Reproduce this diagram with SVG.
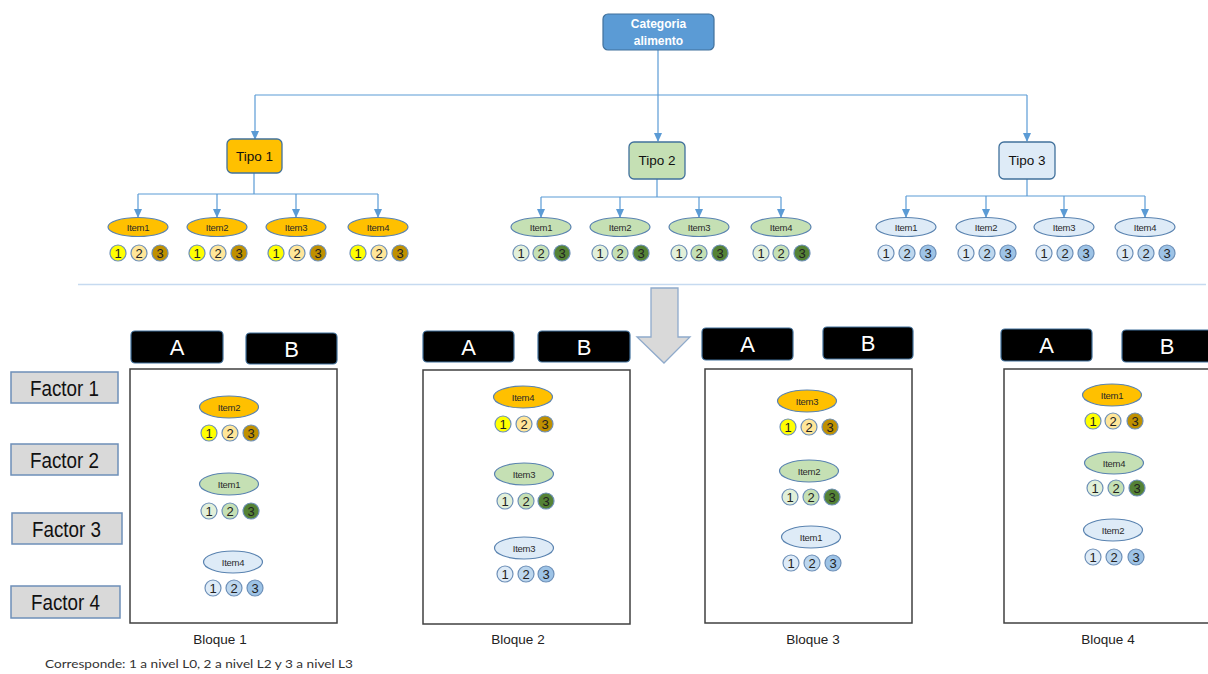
<svg xmlns="http://www.w3.org/2000/svg" width="1208" height="674" viewBox="0 0 1208 674">
  <defs>
    <marker id="arr" markerWidth="9" markerHeight="8" refX="8" refY="4" orient="auto" markerUnits="userSpaceOnUse">
      <path d="M0,0 L9,4 L0,8 Z" fill="#5B9BD5"/>
    </marker>
    <style>
      text { font-family: "Liberation Sans", Arial, sans-serif; }
      .conn { fill: none; stroke: #5B9BD5; stroke-width: 1.2; }
      .sep { fill: none; stroke: #C6DAF0; stroke-width: 1.5; }
      .root { fill: #5B9BD5; stroke: #41719C; stroke-width: 1.2; }
      .root-t { font-size: 12px; font-weight: bold; fill: #FFFFFF; text-anchor: middle; }
      .tipo-t { font-size: 13.5px; fill: #111; text-anchor: middle; }
      .t1 { fill: #FFC000; stroke: #41719C; stroke-width: 1.3; }
      .t2 { fill: #C5E0B4; stroke: #41719C; stroke-width: 1.3; }
      .t3 { fill: #DEEBF7; stroke: #41719C; stroke-width: 1.3; }
      .io { fill: #FFC000; stroke: #5A83B0; stroke-width: 1.2; }
      .ig { fill: #C5E0B4; stroke: #5A83B0; stroke-width: 1.2; }
      .ib { fill: #DEEBF7; stroke: #5A83B0; stroke-width: 1.2; }
      .it { font-size: 9.5px; fill: #2a2a2a; text-anchor: middle; letter-spacing: -0.3px; }
      .c { stroke: #6E90B8; stroke-width: 1.2; }
      .o1 { fill: #FFFF00; } .o2 { fill: #FFE699; } .o3 { fill: #BF9000; }
      .g1 { fill: #E2F0D9; } .g2 { fill: #C5E0B4; } .g3 { fill: #548235; }
      .b1 { fill: #DEEBF7; } .b2 { fill: #BDD7EE; } .b3 { fill: #9DC3E6; }
      .n { font-size: 13px; fill: #222; text-anchor: middle; }
      .hdr { fill: #000; stroke: #41719C; stroke-width: 1.2; }
      .hdr-t { font-size: 22px; fill: #FFFFFF; text-anchor: middle; }
      .frame { fill: #FFFFFF; stroke: #404040; stroke-width: 1.5; }
      .fac { fill: #D9D9D9; stroke: #6D8FB8; stroke-width: 1.5; }
      .fac-t { font-size: 22px; fill: #111; text-anchor: middle; }
      .blq { font-size: 13.5px; fill: #222; text-anchor: middle; }
      .note { font-family: Lato, "Liberation Sans", sans-serif; font-size: 12px; fill: #333; }
    </style>
  </defs>

  <rect width="1208" height="674" fill="#FFFFFF"/>

  <!-- connectors of the tree -->
  <g id="connectors">
    <path class="conn" d="M658,50 V141" marker-end="url(#arr)"/>
    <path class="conn" d="M255,95 H1027"/>
    <path class="conn" d="M255,95 V139" marker-end="url(#arr)"/>
    <path class="conn" d="M1027,95 V141" marker-end="url(#arr)"/>

    <path class="conn" d="M254,173 V194 M138,194 H378"/>
    <path class="conn" d="M138,194 V217" marker-end="url(#arr)"/>
    <path class="conn" d="M217,194 V217" marker-end="url(#arr)"/>
    <path class="conn" d="M296,194 V217" marker-end="url(#arr)"/>
    <path class="conn" d="M378,194 V217" marker-end="url(#arr)"/>

    <path class="conn" d="M657,179 V197 M541,197 H781"/>
    <path class="conn" d="M541,197 V217" marker-end="url(#arr)"/>
    <path class="conn" d="M620,197 V217" marker-end="url(#arr)"/>
    <path class="conn" d="M699,197 V217" marker-end="url(#arr)"/>
    <path class="conn" d="M781,197 V217" marker-end="url(#arr)"/>

    <path class="conn" d="M1027,179 V196 M906,196 H1145"/>
    <path class="conn" d="M906,196 V217" marker-end="url(#arr)"/>
    <path class="conn" d="M986,196 V217" marker-end="url(#arr)"/>
    <path class="conn" d="M1064,196 V217" marker-end="url(#arr)"/>
    <path class="conn" d="M1145,196 V217" marker-end="url(#arr)"/>
  </g>

  <!-- root -->
  <g id="categoria">
    <rect class="root" x="603" y="14" width="111" height="36" rx="5"/>
    <text class="root-t" x="658.5" y="28">Categoria</text>
    <text class="root-t" x="658.5" y="45">alimento</text>
  </g>

  <!-- types -->
  <g id="tipo1">
    <rect class="t1" x="227" y="139" width="55" height="34" rx="5"/>
    <text class="tipo-t" x="254.5" y="161">Tipo 1</text>
  </g>
  <g id="tipo2">
    <rect class="t2" x="629" y="142" width="56" height="37" rx="5"/>
    <text class="tipo-t" x="657" y="165">Tipo 2</text>
  </g>
  <g id="tipo3">
    <rect class="t3" x="999" y="142" width="56" height="37" rx="5"/>
    <text class="tipo-t" x="1027" y="165">Tipo 3</text>
  </g>

  <!-- items of Tipo 1 -->
  <g id="t1-item1">
    <ellipse class="io" cx="138" cy="227" rx="30" ry="9.5"/><text class="it" x="138" y="230.5">Item1</text>
    <circle class="c o1" cx="118" cy="253" r="8"/><text class="n" x="118" y="257.5">1</text>
    <circle class="c o2" cx="139" cy="253" r="8"/><text class="n" x="139" y="257.5">2</text>
    <circle class="c o3" cx="160" cy="253" r="8"/><text class="n" x="160" y="257.5">3</text>
  </g>
  <g id="t1-item2">
    <ellipse class="io" cx="217" cy="227" rx="30" ry="9.5"/><text class="it" x="217" y="230.5">Item2</text>
    <circle class="c o1" cx="197" cy="253" r="8"/><text class="n" x="197" y="257.5">1</text>
    <circle class="c o2" cx="218" cy="253" r="8"/><text class="n" x="218" y="257.5">2</text>
    <circle class="c o3" cx="239" cy="253" r="8"/><text class="n" x="239" y="257.5">3</text>
  </g>
  <g id="t1-item3">
    <ellipse class="io" cx="296" cy="227" rx="30" ry="9.5"/><text class="it" x="296" y="230.5">Item3</text>
    <circle class="c o1" cx="276" cy="253" r="8"/><text class="n" x="276" y="257.5">1</text>
    <circle class="c o2" cx="297" cy="253" r="8"/><text class="n" x="297" y="257.5">2</text>
    <circle class="c o3" cx="318" cy="253" r="8"/><text class="n" x="318" y="257.5">3</text>
  </g>
  <g id="t1-item4">
    <ellipse class="io" cx="378" cy="227" rx="30" ry="9.5"/><text class="it" x="378" y="230.5">Item4</text>
    <circle class="c o1" cx="358" cy="253" r="8"/><text class="n" x="358" y="257.5">1</text>
    <circle class="c o2" cx="379" cy="253" r="8"/><text class="n" x="379" y="257.5">2</text>
    <circle class="c o3" cx="400" cy="253" r="8"/><text class="n" x="400" y="257.5">3</text>
  </g>

  <!-- items of Tipo 2 -->
  <g id="t2-item1">
    <ellipse class="ig" cx="541" cy="227" rx="30" ry="9.5"/><text class="it" x="541" y="230.5">Item1</text>
    <circle class="c g1" cx="521" cy="253" r="8"/><text class="n" x="521" y="257.5">1</text>
    <circle class="c g2" cx="541" cy="253" r="8"/><text class="n" x="541" y="257.5">2</text>
    <circle class="c g3" cx="562" cy="253" r="8"/><text class="n" x="562" y="257.5">3</text>
  </g>
  <g id="t2-item2">
    <ellipse class="ig" cx="620" cy="227" rx="30" ry="9.5"/><text class="it" x="620" y="230.5">Item2</text>
    <circle class="c g1" cx="600" cy="253" r="8"/><text class="n" x="600" y="257.5">1</text>
    <circle class="c g2" cx="620" cy="253" r="8"/><text class="n" x="620" y="257.5">2</text>
    <circle class="c g3" cx="641" cy="253" r="8"/><text class="n" x="641" y="257.5">3</text>
  </g>
  <g id="t2-item3">
    <ellipse class="ig" cx="699" cy="227" rx="30" ry="9.5"/><text class="it" x="699" y="230.5">Item3</text>
    <circle class="c g1" cx="679" cy="253" r="8"/><text class="n" x="679" y="257.5">1</text>
    <circle class="c g2" cx="699" cy="253" r="8"/><text class="n" x="699" y="257.5">2</text>
    <circle class="c g3" cx="720" cy="253" r="8"/><text class="n" x="720" y="257.5">3</text>
  </g>
  <g id="t2-item4">
    <ellipse class="ig" cx="781" cy="227" rx="30" ry="9.5"/><text class="it" x="781" y="230.5">Item4</text>
    <circle class="c g1" cx="761" cy="253" r="8"/><text class="n" x="761" y="257.5">1</text>
    <circle class="c g2" cx="781" cy="253" r="8"/><text class="n" x="781" y="257.5">2</text>
    <circle class="c g3" cx="802" cy="253" r="8"/><text class="n" x="802" y="257.5">3</text>
  </g>

  <!-- items of Tipo 3 -->
  <g id="t3-item1">
    <ellipse class="ib" cx="906" cy="227" rx="30" ry="9.5"/><text class="it" x="906" y="230.5">Item1</text>
    <circle class="c b1" cx="886" cy="253" r="8"/><text class="n" x="886" y="257.5">1</text>
    <circle class="c b2" cx="907" cy="253" r="8"/><text class="n" x="907" y="257.5">2</text>
    <circle class="c b3" cx="928" cy="253" r="8"/><text class="n" x="928" y="257.5">3</text>
  </g>
  <g id="t3-item2">
    <ellipse class="ib" cx="986" cy="227" rx="30" ry="9.5"/><text class="it" x="986" y="230.5">Item2</text>
    <circle class="c b1" cx="966" cy="253" r="8"/><text class="n" x="966" y="257.5">1</text>
    <circle class="c b2" cx="987" cy="253" r="8"/><text class="n" x="987" y="257.5">2</text>
    <circle class="c b3" cx="1008" cy="253" r="8"/><text class="n" x="1008" y="257.5">3</text>
  </g>
  <g id="t3-item3">
    <ellipse class="ib" cx="1064" cy="227" rx="30" ry="9.5"/><text class="it" x="1064" y="230.5">Item3</text>
    <circle class="c b1" cx="1044" cy="253" r="8"/><text class="n" x="1044" y="257.5">1</text>
    <circle class="c b2" cx="1065" cy="253" r="8"/><text class="n" x="1065" y="257.5">2</text>
    <circle class="c b3" cx="1086" cy="253" r="8"/><text class="n" x="1086" y="257.5">3</text>
  </g>
  <g id="t3-item4">
    <ellipse class="ib" cx="1145" cy="227" rx="30" ry="9.5"/><text class="it" x="1145" y="230.5">Item4</text>
    <circle class="c b1" cx="1125" cy="253" r="8"/><text class="n" x="1125" y="257.5">1</text>
    <circle class="c b2" cx="1146" cy="253" r="8"/><text class="n" x="1146" y="257.5">2</text>
    <circle class="c b3" cx="1167" cy="253" r="8"/><text class="n" x="1167" y="257.5">3</text>
  </g>

  <!-- separator and transition arrow -->
  <line class="sep" x1="78" y1="284.5" x2="1206" y2="284.5"/>
  <polygon id="down-arrow" points="651,288 678,288 678,337 690,337 664,363 637,337 651,337" fill="#D9D9D9" stroke="#8FAACB" stroke-width="1.3"/>

  <!-- factor labels -->
  <g id="factor1"><rect class="fac" x="11" y="372" width="107" height="31"/><text class="fac-t" x="64.5" y="396" textLength="69" lengthAdjust="spacingAndGlyphs">Factor 1</text></g>
  <g id="factor2"><rect class="fac" x="11" y="444" width="107" height="31"/><text class="fac-t" x="64.5" y="468" textLength="69" lengthAdjust="spacingAndGlyphs">Factor 2</text></g>
  <g id="factor3"><rect class="fac" x="12" y="513" width="110" height="31"/><text class="fac-t" x="66.5" y="537" textLength="69" lengthAdjust="spacingAndGlyphs">Factor 3</text></g>
  <g id="factor4"><rect class="fac" x="11" y="586" width="109" height="32"/><text class="fac-t" x="65.5" y="610" textLength="69" lengthAdjust="spacingAndGlyphs">Factor 4</text></g>

  <!-- Bloque 1 -->
  <g id="bloque1">
    <rect class="hdr" x="131" y="331" width="92" height="32" rx="4"/><text class="hdr-t" x="177" y="355">A</text>
    <rect class="hdr" x="246" y="333" width="91" height="31" rx="4"/><text class="hdr-t" x="291.5" y="357">B</text>
    <rect class="frame" x="130" y="369" width="207" height="254"/>
    <ellipse class="io" cx="229" cy="407" rx="29.5" ry="11"/><text class="it" x="229" y="410.5">Item2</text>
    <circle class="c o1" cx="209" cy="433" r="8"/><text class="n" x="209" y="437.5">1</text>
    <circle class="c o2" cx="230" cy="433" r="8"/><text class="n" x="230" y="437.5">2</text>
    <circle class="c o3" cx="251" cy="433" r="8"/><text class="n" x="251" y="437.5">3</text>
    <ellipse class="ig" cx="229" cy="484" rx="29.5" ry="11"/><text class="it" x="229" y="487.5">Item1</text>
    <circle class="c g1" cx="209" cy="511" r="8"/><text class="n" x="209" y="515.5">1</text>
    <circle class="c g2" cx="230" cy="511" r="8"/><text class="n" x="230" y="515.5">2</text>
    <circle class="c g3" cx="251" cy="511" r="8"/><text class="n" x="251" y="515.5">3</text>
    <ellipse class="ib" cx="233" cy="562" rx="29.5" ry="11"/><text class="it" x="233" y="565.5">Item4</text>
    <circle class="c b1" cx="213" cy="588" r="8"/><text class="n" x="213" y="592.5">1</text>
    <circle class="c b2" cx="234" cy="588" r="8"/><text class="n" x="234" y="592.5">2</text>
    <circle class="c b3" cx="255" cy="588" r="8"/><text class="n" x="255" y="592.5">3</text>
    <text class="blq" x="220" y="644">Bloque 1</text>
  </g>

  <!-- Bloque 2 -->
  <g id="bloque2">
    <rect class="hdr" x="423" y="331" width="91" height="31" rx="4"/><text class="hdr-t" x="468.5" y="355">A</text>
    <rect class="hdr" x="538" y="331" width="92" height="31" rx="4"/><text class="hdr-t" x="584" y="355">B</text>
    <rect class="frame" x="423" y="370" width="207" height="254"/>
    <ellipse class="io" cx="523" cy="397" rx="29.5" ry="11"/><text class="it" x="523" y="400.5">Item4</text>
    <circle class="c o1" cx="503" cy="424" r="8"/><text class="n" x="503" y="428.5">1</text>
    <circle class="c o2" cx="524" cy="424" r="8"/><text class="n" x="524" y="428.5">2</text>
    <circle class="c o3" cx="545" cy="424" r="8"/><text class="n" x="545" y="428.5">3</text>
    <ellipse class="ig" cx="524" cy="474" rx="29.5" ry="11"/><text class="it" x="524" y="477.5">Item3</text>
    <circle class="c g1" cx="505" cy="501" r="8"/><text class="n" x="505" y="505.5">1</text>
    <circle class="c g2" cx="526" cy="501" r="8"/><text class="n" x="526" y="505.5">2</text>
    <circle class="c g3" cx="546" cy="501" r="8"/><text class="n" x="546" y="505.5">3</text>
    <ellipse class="ib" cx="524" cy="548" rx="29.5" ry="11"/><text class="it" x="524" y="551.5">Item3</text>
    <circle class="c b1" cx="505" cy="574" r="8"/><text class="n" x="505" y="578.5">1</text>
    <circle class="c b2" cx="526" cy="574" r="8"/><text class="n" x="526" y="578.5">2</text>
    <circle class="c b3" cx="546" cy="574" r="8"/><text class="n" x="546" y="578.5">3</text>
    <text class="blq" x="518" y="644">Bloque 2</text>
  </g>

  <!-- Bloque 3 -->
  <g id="bloque3">
    <rect class="hdr" x="702" y="328" width="91" height="32" rx="4"/><text class="hdr-t" x="747.5" y="352">A</text>
    <rect class="hdr" x="823" y="327" width="90" height="32" rx="4"/><text class="hdr-t" x="868" y="351">B</text>
    <rect class="frame" x="705" y="369" width="207" height="254"/>
    <ellipse class="io" cx="807" cy="401" rx="29.5" ry="11"/><text class="it" x="807" y="404.5">Item3</text>
    <circle class="c o1" cx="788" cy="427" r="8"/><text class="n" x="788" y="431.5">1</text>
    <circle class="c o2" cx="809" cy="427" r="8"/><text class="n" x="809" y="431.5">2</text>
    <circle class="c o3" cx="830" cy="427" r="8"/><text class="n" x="830" y="431.5">3</text>
    <ellipse class="ig" cx="809" cy="471" rx="29.5" ry="11"/><text class="it" x="809" y="474.5">Item2</text>
    <circle class="c g1" cx="790" cy="497" r="8"/><text class="n" x="790" y="501.5">1</text>
    <circle class="c g2" cx="811" cy="497" r="8"/><text class="n" x="811" y="501.5">2</text>
    <circle class="c g3" cx="832" cy="497" r="8"/><text class="n" x="832" y="501.5">3</text>
    <ellipse class="ib" cx="811" cy="537" rx="29.5" ry="11"/><text class="it" x="811" y="540.5">Item1</text>
    <circle class="c b1" cx="791" cy="563" r="8"/><text class="n" x="791" y="567.5">1</text>
    <circle class="c b2" cx="812" cy="563" r="8"/><text class="n" x="812" y="567.5">2</text>
    <circle class="c b3" cx="833" cy="563" r="8"/><text class="n" x="833" y="567.5">3</text>
    <text class="blq" x="813" y="644">Bloque 3</text>
  </g>

  <!-- Bloque 4 -->
  <g id="bloque4">
    <rect class="hdr" x="1001" y="329" width="91" height="32" rx="4"/><text class="hdr-t" x="1046.5" y="353">A</text>
    <rect class="hdr" x="1122" y="330" width="100" height="32" rx="4"/><text class="hdr-t" x="1167" y="354">B</text>
    <rect class="frame" x="1004" y="369" width="220" height="254"/>
    <ellipse class="io" cx="1112" cy="395" rx="29.5" ry="11"/><text class="it" x="1112" y="398.5">Item1</text>
    <circle class="c o1" cx="1093" cy="421" r="8"/><text class="n" x="1093" y="425.5">1</text>
    <circle class="c o2" cx="1113" cy="421" r="8"/><text class="n" x="1113" y="425.5">2</text>
    <circle class="c o3" cx="1135" cy="421" r="8"/><text class="n" x="1135" y="425.5">3</text>
    <ellipse class="ig" cx="1114" cy="463" rx="29.5" ry="11"/><text class="it" x="1114" y="466.5">Item4</text>
    <circle class="c g1" cx="1095" cy="488" r="8"/><text class="n" x="1095" y="492.5">1</text>
    <circle class="c g2" cx="1116" cy="488" r="8"/><text class="n" x="1116" y="492.5">2</text>
    <circle class="c g3" cx="1137" cy="488" r="8"/><text class="n" x="1137" y="492.5">3</text>
    <ellipse class="ib" cx="1113" cy="530" rx="29.5" ry="11"/><text class="it" x="1113" y="533.5">Item2</text>
    <circle class="c b1" cx="1093" cy="557" r="8"/><text class="n" x="1093" y="561.5">1</text>
    <circle class="c b2" cx="1114" cy="557" r="8"/><text class="n" x="1114" y="561.5">2</text>
    <circle class="c b3" cx="1136" cy="557" r="8"/><text class="n" x="1136" y="561.5">3</text>
    <text class="blq" x="1108" y="644">Bloque 4</text>
  </g>

  <!-- legend note -->
  <text class="note" x="45" y="668" textLength="308" lengthAdjust="spacingAndGlyphs">Corresponde: 1 a nivel L0, 2 a nivel L2 y 3 a nivel L3</text>
</svg>
